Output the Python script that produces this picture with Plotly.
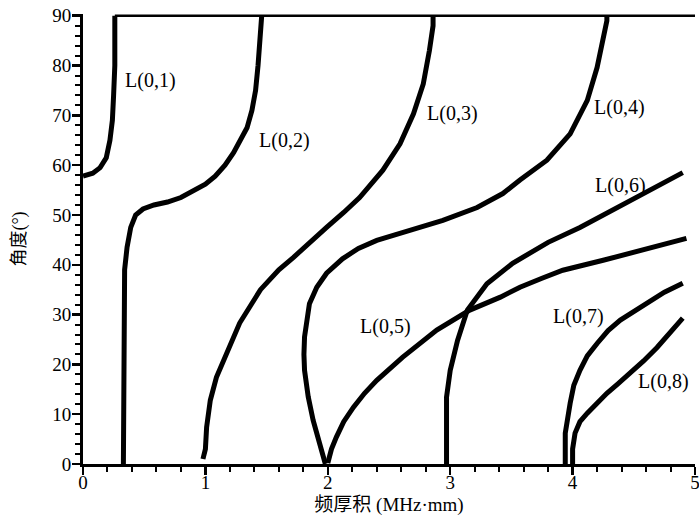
import plotly.graph_objects as go

# Mode curves: frequency-thickness product (MHz·mm) vs angle (deg)
L01_x = [0, 0.08, 0.14, 0.19, 0.22, 0.24, 0.25, 0.26, 0.26]
L01_y = [57.8, 58.4, 59.5, 61.5, 65, 69, 74, 80, 90]

L02_x = [0.33, 0.33, 0.34, 0.36, 0.39, 0.43, 0.49, 0.58, 0.69, 0.8, 0.9, 1.0, 1.08, 1.16, 1.23, 1.29, 1.34, 1.38, 1.41, 1.43, 1.45, 1.46]
L02_y = [0, 35, 39, 43.5, 47.5, 50, 51.2, 52, 52.6, 53.5, 54.8, 56.2, 57.8, 60, 62.5, 65, 67.5, 71, 75, 80, 85, 90]

L03_x = [0.98, 1.0, 1.01, 1.04, 1.09, 1.18, 1.28, 1.45, 1.6, 1.72, 1.85, 1.99, 2.13, 2.26, 2.45, 2.59, 2.70, 2.78, 2.83, 2.86, 2.86]
L03_y = [1, 3, 7.4, 12.8, 17.4, 22.8, 28.3, 35, 39, 41.5, 44.5, 47.5, 50.5, 53.5, 59, 64.3, 70.3, 76.3, 83, 88, 90]

L04_x = [1.98, 1.93, 1.88, 1.84, 1.81, 1.805, 1.81, 1.85, 1.91, 1.99, 2.12, 2.25, 2.40, 2.67, 2.94, 3.22, 3.43, 3.57, 3.79, 3.98, 4.12, 4.20, 4.26, 4.28, 4.28]
L04_y = [0, 4, 8.8, 13.5, 18.8, 22, 25.5, 32.2, 35.5, 38.3, 41.2, 43.3, 44.9, 46.9, 48.9, 51.5, 54.3, 57, 61, 66.3, 73, 79.6, 86.3, 89, 90]

L05_x = [2.0, 2.03, 2.07, 2.13, 2.21, 2.30, 2.40, 2.61, 2.89, 3.16, 3.41, 3.57, 3.75, 3.92, 4.25, 4.5, 4.75, 4.93]
L05_y = [0.2, 3, 5.4, 8.5, 11.4, 14.2, 16.8, 21.4, 26.9, 30.9, 33.5, 35.5, 37.3, 38.9, 40.9, 42.6, 44.1, 45.3]

L06_x = [2.97, 2.97, 3.0, 3.06, 3.14, 3.30, 3.51, 3.59, 3.8, 4.06, 4.27, 4.47, 4.7, 4.90]
L06_y = [0, 13.4, 18.8, 24.8, 30.9, 36.2, 40.3, 41.5, 44.5, 47.5, 50.2, 52.9, 55.8, 58.5]

L07_x = [3.94, 3.94, 3.98, 4.01, 4.06, 4.12, 4.20, 4.29, 4.39, 4.5, 4.61, 4.75, 4.90]
L07_y = [0, 6.2, 12.2, 15.8, 18.8, 21.7, 24.2, 26.8, 28.9, 30.7, 32.3, 34.5, 36.3]

L08_x = [4.0, 4.0, 4.02, 4.06, 4.12, 4.2, 4.28, 4.37, 4.47, 4.58, 4.69, 4.80, 4.90]
L08_y = [0, 3, 6.2, 8.5, 10.2, 12.3, 14.2, 16.1, 18.2, 20.7, 23.4, 26.3, 29.3]

TOP_x = [0.26, 5]
TOP_y = [90, 90]

labels = ["L(0,1)", "L(0,2)", "L(0,3)", "L(0,4)", "L(0,5)", "L(0,6)", "L(0,7)", "L(0,8)"]
label_x = [0.33, 1.42, 2.79, 4.16, 2.25, 4.17, 3.82, 4.52]
label_y = [77, 65, 70.3, 71.5, 27.7, 56, 29.7, 16.6]

x_ticks = [0, 1, 2, 3, 4, 5]
y_ticks = [0, 10, 20, 30, 40, 50, 60, 70, 80, 90]

curves = [(L01_x, L01_y), (L02_x, L02_y), (L03_x, L03_y), (L04_x, L04_y),
          (L05_x, L05_y), (L06_x, L06_y), (L07_x, L07_y), (L08_x, L08_y)]

fig = go.Figure()
fig.add_trace(go.Scatter(x=TOP_x, y=TOP_y, mode="lines",
                         line=dict(color="black", width=2.5), showlegend=False))
for cx, cy in curves:
    fig.add_trace(go.Scatter(x=cx, y=cy, mode="lines",
                             line=dict(color="black", width=5), showlegend=False))

for t, lx, ly in zip(labels, label_x, label_y):
    fig.add_annotation(x=lx, y=ly, text=t, showarrow=False, xanchor="left", yanchor="middle",
                       font=dict(family="Liberation Serif", size=20, color="black"))

font_main = "Liberation Serif, Noto Sans CJK SC"
fig.update_layout(
    width=699, height=522,
    margin=dict(l=83, r=4, t=14, b=58),
    paper_bgcolor="white", plot_bgcolor="white",
    font=dict(family=font_main, size=19, color="black"),
    xaxis=dict(range=[0, 5], tickvals=x_ticks, ticktext=[str(v) for v in x_ticks],
               automargin=False, ticklabeloverflow="allow", ticklabelstandoff=-9,
               showgrid=False, zeroline=False, showline=True, linecolor="black", linewidth=3,
               ticks="outside", ticklen=8, tickwidth=2.5, tickcolor="black",
               minor=dict(dtick=0.2, ticks="outside", ticklen=5, tickwidth=2, tickcolor="black"),
               tickfont=dict(family="Liberation Serif", size=19, color="black"),
               title=dict(text="频厚积 (MHz·mm)", standoff=6,
                          font=dict(family=font_main, size=19, color="black"))),
    yaxis=dict(range=[0, 90.35], tickvals=y_ticks, ticktext=[str(v) for v in y_ticks],
               automargin=False, ticklabeloverflow="allow", ticklabelstandoff=-3,
               showgrid=False, zeroline=False, showline=True, linecolor="black", linewidth=3,
               ticks="outside", ticklen=8, tickwidth=2.5, tickcolor="black",
               minor=dict(dtick=2, ticks="outside", ticklen=5, tickwidth=2, tickcolor="black"),
               tickfont=dict(family="Liberation Serif", size=19, color="black"),
               title=dict(text="角度(°)", standoff=22,
                          font=dict(family=font_main, size=18, color="black"))),
)

fig.write_html("out.html",
               config={"displayModeBar": False, "staticPlot": True},
               post_script="document.body.style.margin='0';document.body.style.overflow='hidden';")
